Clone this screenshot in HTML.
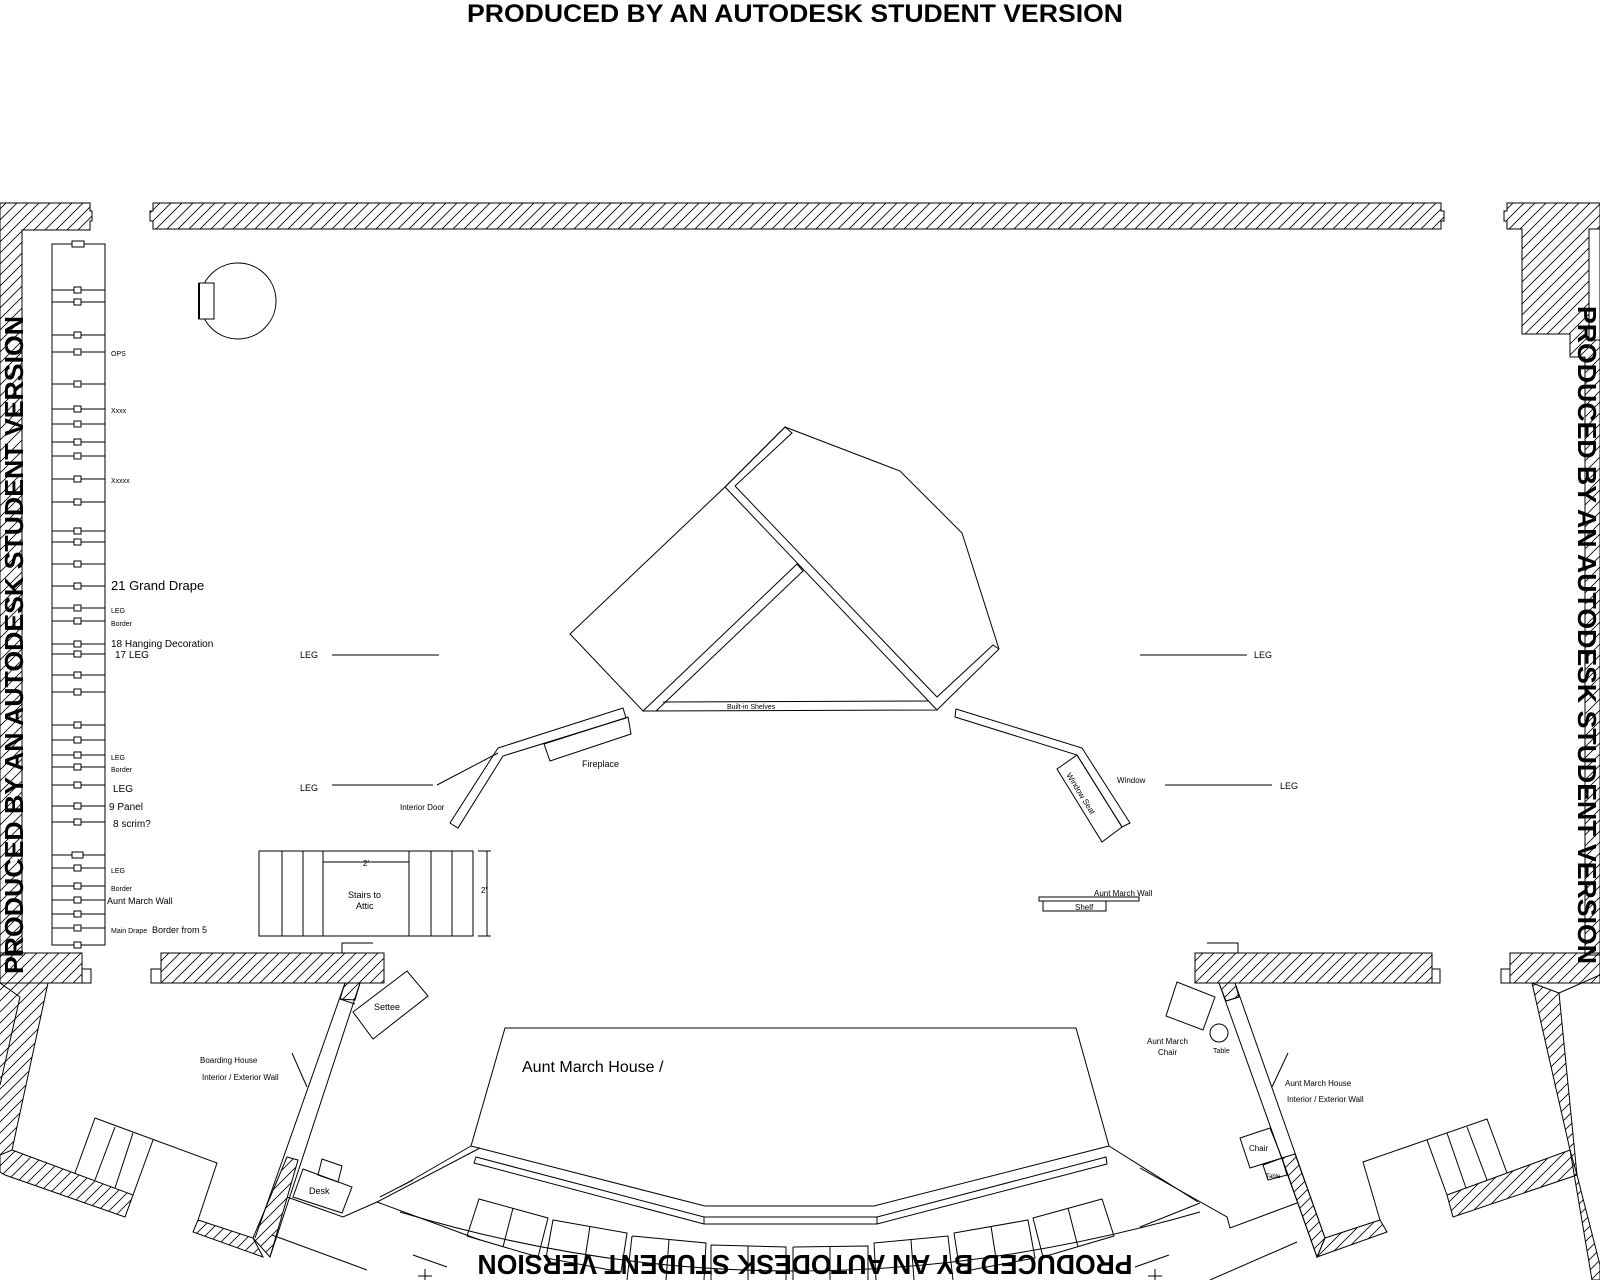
<!DOCTYPE html>
<html><head><meta charset="utf-8"><style>
html,body{margin:0;padding:0;background:#fff;}
svg{display:block;}
text{font-family:"Liberation Sans",Arial,sans-serif;fill:#000;}
</style></head><body>
<svg width="1600" height="1280" viewBox="0 0 1600 1280" xmlns="http://www.w3.org/2000/svg">
<defs>
<pattern id="h" patternUnits="userSpaceOnUse" width="11" height="11">
<path d="M-1,12 L12,-1 M-3,3 L3,-3 M8,14 L14,8" stroke="#000" stroke-width="0.8"/>
</pattern>
</defs>
<rect width="1600" height="1280" fill="#fff"/>

<text x="795" y="22" font-size="25" font-weight="bold" text-anchor="middle" textLength="656" lengthAdjust="spacingAndGlyphs">PRODUCED BY AN AUTODESK STUDENT VERSION</text>

<g fill="none" stroke="#000" stroke-width="1">
<path d="M153,203 H1441 V211 H1444 V221 H1441 V229 H153 V221 H150 V211 H153 Z" fill="url(#h)"/>
<path d="M0,203 H90 V211 H92 V221 H90 V230 H22 V955 H0 Z" fill="url(#h)"/>
<path d="M1507,203 H1600 V955 H1585 V357 H1570 V334 H1522 V229 H1507 V221 H1504 V211 H1507 Z" fill="url(#h)"/>
<rect x="1589" y="229" width="11" height="111" fill="#fff"/>

<rect x="0" y="953" width="82" height="30" fill="url(#h)"/>
<rect x="82" y="969" width="9" height="14"/>
<rect x="161" y="953" width="223" height="30" fill="url(#h)"/>
<rect x="151" y="969" width="10" height="14"/>
<rect x="1195" y="953" width="237" height="30" fill="url(#h)"/>
<rect x="1432" y="969" width="8" height="14"/>
<rect x="1510" y="953" width="90" height="30" fill="url(#h)"/>
<rect x="1501" y="969" width="9" height="14"/>
<path d="M342,953 V943 H373"/>
<path d="M1207,943 H1238 V953"/>

<path d="M0,983 H48 L12,1150 L0,1160 Z" fill="url(#h)" stroke="none"/>
<path d="M48,983 L12,1150 M20,997 L0,1085 M0,983 L20,997"/>
<path d="M12,1150 L133,1195 L125,1217 L5,1175 L0,1172 V1155 Z" fill="url(#h)"/>
<path d="M95,1118 L217,1163 L198,1220 M95,1118 L75,1173 M115,1127 L95,1180 M133,1133 L115,1188 M153,1140 L133,1195"/>
<path d="M198,1220 L253,1238 L263,1257 L193,1232 Z" fill="url(#h)"/>
<path d="M345,983 L255,1238 M360,983 L270,1257 M340,999 L355,1004"/>
<path d="M345,983 L360,983 L355,1000 L340,999 Z" fill="url(#h)"/>
<path d="M287,1157 L298,1160 L270,1257 L253,1238 Z" fill="url(#h)"/>
<path d="M353,1012 L407,971 L428,996 L373,1039 Z"/>
<path d="M303,1169 L352,1187 L342,1213 L293,1197 Z"/>
<path d="M322,1159 L342,1166 L338,1182 L318,1175 Z"/>
<path d="M287,1197 L343,1217 L377,1202 L480,1148 M377,1202 L480,1240 M272,1235 L367,1270"/>
<path d="M292,1053 L307,1087"/>

<rect x="52" y="244" width="53" height="701"/>
<path d="M52,290H105M52,302H105M52,335H105M52,352H105M52,384H105M52,409H105M52,424H105M52,442H105M52,456H105M52,479H105M52,502H105M52,531H105M52,542H105M52,564H105M52,586H105M52,608H105M52,621H105M52,644H105M52,654H105M52,675H105M52,692H105M52,725H105M52,740H105M52,755H105M52,767H105M52,785H105M52,806H105M52,822H105M52,855H105M52,868H105M52,886H105M52,900H105M52,914H105M52,928H105"/>
<g fill="#fff">
<rect x="72" y="241" width="12" height="6"/>
<rect x="74" y="287" width="7" height="6"/><rect x="74" y="299" width="7" height="6"/><rect x="74" y="332" width="7" height="6"/><rect x="74" y="349" width="7" height="6"/><rect x="74" y="381" width="7" height="6"/><rect x="74" y="406" width="7" height="6"/><rect x="74" y="421" width="7" height="6"/><rect x="74" y="439" width="7" height="6"/><rect x="74" y="453" width="7" height="6"/><rect x="74" y="476" width="7" height="6"/><rect x="74" y="499" width="7" height="6"/><rect x="74" y="528" width="7" height="6"/><rect x="74" y="539" width="7" height="6"/><rect x="74" y="561" width="7" height="6"/><rect x="74" y="583" width="7" height="6"/><rect x="74" y="605" width="7" height="6"/><rect x="74" y="618" width="7" height="6"/><rect x="74" y="641" width="7" height="6"/><rect x="74" y="651" width="7" height="6"/><rect x="74" y="672" width="7" height="6"/><rect x="74" y="689" width="7" height="6"/><rect x="74" y="722" width="7" height="6"/><rect x="74" y="737" width="7" height="6"/><rect x="74" y="752" width="7" height="6"/><rect x="74" y="764" width="7" height="6"/><rect x="74" y="782" width="7" height="6"/><rect x="74" y="803" width="7" height="6"/><rect x="74" y="819" width="7" height="6"/><rect x="72" y="852" width="11" height="6"/><rect x="74" y="865" width="7" height="6"/><rect x="74" y="883" width="7" height="6"/><rect x="74" y="897" width="7" height="6"/><rect x="74" y="911" width="7" height="6"/><rect x="74" y="925" width="7" height="6"/><rect x="74" y="942" width="7" height="6"/>
</g>

<circle cx="238" cy="301" r="38"/>
<rect x="199" y="283" width="15" height="36" fill="#fff"/>
<path d="M199,283 V319" stroke-width="2"/>

<path d="M785,427 L900,471 L962,533 L999,649 L937,710 L643,711 L570,634 L725,487 Z"/>
<path d="M725,487 L785,427 L792,433 L735,486"/>
<path d="M725,487 L937,710 M735,486 L937,697 L993,645 L999,649"/>
<path d="M643,711 L797,564 L803,571 L656,711"/>
<path d="M663,702 L928,701"/>
<path d="M498,748 L623,708 L626,718 L503,756 L458,828 L450,823 Z"/>
<path d="M544,744 L628,717 L631,734 L550,761 Z"/>
<path d="M498,753 L437,785"/>
<path d="M956,709 L1082,748 L1130,823 L1122,827 L1077,755 L955,717 Z"/>
<path d="M1057,769 L1077,755 L1122,827 L1102,842 Z"/>
<path d="M332,655 H439 M332,785 H433 M1140,655 H1247 M1165,785 H1272"/>
<rect x="259" y="851" width="214" height="85"/>
<path d="M282,851V936M303,851V936M323,851V936M409,851V936M431,851V936M452,851V936M323,862H409"/>
<path d="M487,851V936M478,851H491M478,936H491"/>
<rect x="1039" y="897" width="100" height="4"/>
<rect x="1043" y="901" width="63" height="10"/>

<path d="M1219,983 L1317,1257 M1235,983 L1325,1238 M1226,1001 L1239,997"/>
<path d="M1219,983 L1235,983 L1239,997 L1226,1001 Z" fill="url(#h)"/>
<path d="M1282,1158 L1295,1154 L1325,1238 L1317,1257 Z" fill="url(#h)"/>
<path d="M1325,1238 L1380,1220 L1387,1232 L1317,1257 Z" fill="url(#h)"/>
<path d="M1380,1220 L1363,1162 L1487,1119 L1507,1173"/>
<path d="M1427,1140 L1447,1195 M1447,1133 L1466,1188 M1467,1127 L1487,1180"/>
<path d="M1447,1195 L1570,1150 L1577,1175 L1453,1217 Z" fill="url(#h)"/>
<path d="M1532,983 L1559,993 L1577,1175 L1600,1265 V1280 L1592,1280 L1570,1150 Z" fill="url(#h)"/>
<path d="M1559,993 L1600,975"/>
<path d="M1177,982 L1215,997 L1203,1030 L1166,1016 Z"/>
<circle cx="1219" cy="1033" r="9"/>
<path d="M1288,1053 L1272,1087"/>
<path d="M1240,1138 L1270,1128 L1282,1158 L1250,1168 Z"/>
<path d="M1263,1165 L1282,1158 L1287,1175 L1268,1180 Z"/>
<path d="M1140,1168 L1227,1217 L1230,1228 L1297,1203 M1140,1227 L1200,1203 M1210,1280 L1297,1242"/>

<path d="M505,1028 L1076,1028 L1109,1146 L874,1206 L705,1206 L471,1146 Z"/>
<path d="M476,1157 L704,1217 L877,1217 L1106,1157 L1107,1164 L877,1224 L704,1224 L474,1163 Z"/>
<path d="M704,1217 V1224 M877,1217 V1224"/>
<path d="M400,1187 L471,1146 M1109,1146 L1198,1202"/>
<path d="M400,1212 Q790,1330 1200,1212"/>
<path d="M380,1197 L413,1180"/>
<path d="M479,1199 L548,1218 L538,1257 L467,1236 Z M513,1208 L503,1247"/>
<path d="M553,1220 L627,1233 L621,1272 L546,1258 Z M590,1226 L584,1265"/>
<path d="M632,1236 L706,1243 L704,1280 M632,1236 L627,1280 M669,1240 L666,1280"/>
<path d="M711,1245 L786,1247 V1280 M711,1245 V1280 M748,1246 V1280"/>
<path d="M793,1247 L868,1246 V1280 M793,1247 V1280 M830,1247 V1280"/>
<path d="M874,1243 L948,1236 L953,1280 M874,1243 L876,1280 M911,1240 L914,1280"/>
<path d="M954,1233 L1028,1220 L1035,1258 L960,1272 Z M991,1226 L997,1265"/>
<path d="M1033,1218 L1102,1199 L1114,1236 L1043,1257 Z M1068,1208 L1078,1247"/>
<path d="M413,1255 L447,1267 M1135,1267 L1169,1255"/>
<path d="M418,1276 H432 M425,1269 V1280 M1148,1276 H1162 M1155,1269 V1280"/>
</g>

<g font-size="7">
<text x="111" y="356">OPS</text>
<text x="111" y="413">Xxxx</text>
<text x="111" y="483">Xxxxx</text>
<text x="111" y="613">LEG</text>
<text x="111" y="626">Border</text>
<text x="111" y="760">LEG</text>
<text x="111" y="772">Border</text>
<text x="111" y="873">LEG</text>
<text x="111" y="891">Border</text>
<text x="727" y="709">Built-in Shelves</text>
<text x="1094" y="896" font-size="8">Aunt March Wall</text>
<text x="1213" y="1053">Table</text>
<text x="1266" y="1178" font-size="6">Table</text>
<text x="111" y="933">Main Drape</text>
</g>
<text x="111" y="590" font-size="13">21 Grand Drape</text>
<text x="111" y="647" font-size="10">18  Hanging Decoration</text>
<text x="115" y="658" font-size="10">17 LEG</text>
<text x="113" y="792" font-size="10">LEG</text>
<text x="109" y="810" font-size="10">9 Panel</text>
<text x="113" y="827" font-size="10">8 scrim?</text>
<text x="107" y="904" font-size="9">Aunt March Wall</text>
<text x="152" y="933" font-size="9">Border from 5</text>
<text x="300" y="658" font-size="9">LEG</text>
<text x="300" y="791" font-size="9">LEG</text>
<text x="1254" y="658" font-size="9">LEG</text>
<text x="1280" y="789" font-size="9">LEG</text>
<text x="582" y="767" font-size="9">Fireplace</text>
<text x="400" y="810" font-size="8">Interior Door</text>
<text x="1117" y="783" font-size="8">Window</text>
<text x="1066" y="775" font-size="8" transform="rotate(58 1066 775)">Window Seat</text>
<text x="1075" y="910" font-size="8">Shelf</text>
<text x="348" y="898" font-size="9">Stairs to</text>
<text x="356" y="909" font-size="9">Attic</text>
<text x="363" y="866" font-size="8">2'</text>
<text x="481" y="893" font-size="8">2'</text>
<text x="374" y="1010" font-size="9">Settee</text>
<text x="309" y="1194" font-size="9">Desk</text>
<text x="200" y="1063" font-size="8">Boarding House</text>
<text x="202" y="1080" font-size="8">Interior / Exterior Wall</text>
<text x="522" y="1072" font-size="16">Aunt March House /</text>
<text x="1147" y="1044" font-size="8">Aunt March</text>
<text x="1158" y="1055" font-size="8">Chair</text>
<text x="1285" y="1086" font-size="8">Aunt March House</text>
<text x="1287" y="1102" font-size="8">Interior / Exterior Wall</text>
<text x="1249" y="1151" font-size="8">Chair</text>

<text transform="translate(23,645) rotate(-90)" x="0" y="0" font-size="26" font-weight="bold" text-anchor="middle" textLength="658" lengthAdjust="spacingAndGlyphs">PRODUCED BY AN AUTODESK STUDENT VERSION</text>
<text transform="translate(1578,635) rotate(90)" x="0" y="0" font-size="26" font-weight="bold" text-anchor="middle" textLength="658" lengthAdjust="spacingAndGlyphs">PRODUCED BY AN AUTODESK STUDENT VERSION</text>
<text transform="rotate(180 805 1267)" x="805" y="1279" font-size="28" font-weight="bold" text-anchor="middle" textLength="655" lengthAdjust="spacingAndGlyphs">PRODUCED BY AN AUTODESK STUDENT VERSION</text>
</svg>
</body></html>
